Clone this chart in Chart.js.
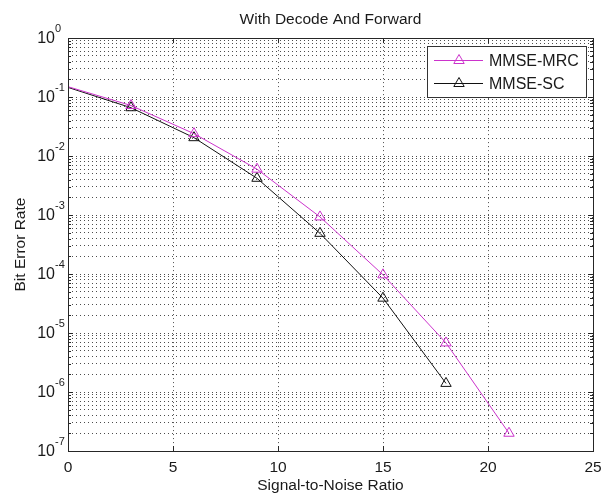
<!DOCTYPE html>
<html lang="en">
<head>
  <meta charset="UTF-8">
  <title>With Decode And Forward</title>
  <script src="https://cdn.jsdelivr.net/npm/chart.js"></script>
  <style>
    body { margin: 0; background: #fff; }
    canvas { display: block; background: #fff; }
  </style>
</head>
<body>
  <canvas id="berChart" width="601" height="495"></canvas>
  <script>
    // values (BER against SNR, log y axis)
    const snrMRC = [0, 3, 6, 9, 12, 15, 18, 21];
    const berMRC = [0.15, 0.072, 0.024, 0.006, 0.00093, 0.000097, 0.0000068, 0.0000002];
    const snrSC = [0, 3, 6, 9, 12, 15, 18];
    const berSC = [0.146, 0.066, 0.0205, 0.0042, 0.00049, 0.000039, 0.0000014];

    const xTicks = [0, 5, 10, 15, 20, 25];
    const yExponents = [-7, -6, -5, -4, -3, -2, -1, 0];

    const FONT = "'Liberation Sans', Arial, sans-serif";
    const TEXT = '#1a1a1a';

    // every 1..9 x 10^n line, like matlab's minor grid
    const yGrid = [];
    yExponents.forEach(e => {
      if (e === 0) { yGrid.push(1); return; }
      for (let m = 1; m <= 9; m++) yGrid.push(m * Math.pow(10, e));
    });

    function isDecade(v) {
      const l = Math.log10(v);
      return Math.abs(l - Math.round(l)) < 1e-9;
    }

    function toPoints(xs, ys) {
      return xs.map((x, i) => ({ x: x, y: ys[i] }));
    }

    // box, inward ticks, 10^n labels and the legend drawn matlab style
    const matlabAxes = {
      id: 'matlabAxes',
      afterDraw(chart) {
        const ctx = chart.ctx;
        const area = chart.chartArea;
        const xs = chart.scales.x, ys = chart.scales.y;
        ctx.save();
        ctx.strokeStyle = '#262626';
        ctx.lineWidth = 1;
        ctx.beginPath();
        xTicks.forEach(v => {
          const px = Math.round(xs.getPixelForValue(v)) + 0.5;
          ctx.moveTo(px, area.bottom); ctx.lineTo(px, area.bottom - 5);
          ctx.moveTo(px, area.top); ctx.lineTo(px, area.top + 5);
        });
        ys.ticks.forEach(t => {
          const py = Math.round(ys.getPixelForValue(t.value)) + 0.5;
          const len = isDecade(t.value) ? 5 : 3;
          ctx.moveTo(area.left, py); ctx.lineTo(area.left + len, py);
          ctx.moveTo(area.right, py); ctx.lineTo(area.right - len, py);
        });
        ctx.stroke();
        ctx.strokeRect(Math.round(area.left) + 0.5, Math.round(area.top) + 0.5,
          Math.round(area.right - area.left), Math.round(area.bottom - area.top));

        // y tick labels with raised exponent
        ctx.fillStyle = TEXT;
        ctx.textBaseline = 'alphabetic';
        yExponents.forEach(e => {
          const py = ys.getPixelForValue(Math.pow(10, e));
          ctx.font = '16px ' + FONT;
          ctx.textAlign = 'right';
          ctx.fillText('10', area.left - 13, py + 5);
          ctx.font = '11px ' + FONT;
          ctx.textAlign = 'left';
          ctx.fillText(String(e), area.left - 13, py - 6);
        });

        // legend box in the top right corner
        const lx = Math.round(area.right) - 166, ly = Math.round(area.top) + 8;
        const lw = 159, lh = 51;
        ctx.fillStyle = '#fff';
        ctx.fillRect(lx, ly, lw, lh);
        ctx.strokeStyle = '#333';
        ctx.strokeRect(lx + 0.5, ly + 0.5, lw, lh);
        chart.data.datasets.forEach((ds, i) => {
          const cy = ly + 14.5 + i * 23;
          ctx.strokeStyle = ds.borderColor;
          ctx.beginPath();
          ctx.moveTo(lx + 7, cy); ctx.lineTo(lx + 56, cy);
          ctx.stroke();
          ctx.fillStyle = 'rgba(0,0,0,0)';
          Chart.helpers.drawPoint(ctx, { pointStyle: 'triangle', radius: 6, rotation: 0, borderWidth: 1 }, lx + 32, cy);
          ctx.fillStyle = TEXT;
          ctx.font = '16px ' + FONT;
          ctx.textAlign = 'left';
          ctx.textBaseline = 'middle';
          ctx.fillText(ds.label, lx + 62, cy + 1);
        });
        ctx.restore();
      }
    };

    const gridStyle = {
      color: '#4d4d4d',
      lineWidth: 1,
      drawTicks: false
    };

    new Chart(document.getElementById('berChart'), {
      type: 'line',
      data: {
        datasets: [{
          label: 'MMSE-MRC',
          data: toPoints(snrMRC, berMRC),
          borderColor: '#cc33cc',
          backgroundColor: 'rgba(0,0,0,0)',
          borderWidth: 1,
          pointStyle: 'triangle',
          pointRadius: snrMRC.map(x => x === 0 ? 0 : 6),
          pointBorderWidth: 1,
          pointBorderColor: '#cc33cc',
          pointBackgroundColor: 'rgba(0,0,0,0)',
          tension: 0
        }, {
          label: 'MMSE-SC',
          data: toPoints(snrSC, berSC),
          borderColor: '#111',
          backgroundColor: 'rgba(0,0,0,0)',
          borderWidth: 1,
          pointStyle: 'triangle',
          pointRadius: snrSC.map(x => x === 0 ? 0 : 6),
          pointBorderWidth: 1,
          pointBorderColor: '#111',
          pointBackgroundColor: 'rgba(0,0,0,0)',
          tension: 0
        }]
      },
      options: {
        responsive: false,
        animation: false,
        layout: { padding: { left: 0, right: 8, top: 0, bottom: 0 } },
        plugins: {
          legend: { display: false },
          tooltip: { enabled: false },
          title: {
            display: true,
            text: 'With Decode And Forward',
            fullSize: false,
            color: TEXT,
            font: { family: FONT, size: 15.5, weight: 'normal' },
            padding: { top: 10, bottom: 9.5 }
          }
        },
        scales: {
          x: {
            type: 'linear',
            min: 0,
            max: 25,
            afterBuildTicks: scale => { scale.ticks = xTicks.map(v => ({ value: v })); },
            afterFit: scale => {
              scale.height = 44;
              scale.paddingLeft = 0;
              scale.paddingRight = 0;
            },
            grid: Object.assign({ borderDash: [1, 3] }, gridStyle),
            border: { display: false, dash: [1, 3] },
            ticks: { color: TEXT, padding: 7, font: { family: FONT, size: 15.5 } },
            title: {
              display: true,
              text: 'Signal-to-Noise Ratio',
              color: TEXT,
              font: { family: FONT, size: 15.5 },
              padding: { top: 0, bottom: 0 }
            }
          },
          y: {
            type: 'logarithmic',
            min: 1e-7,
            max: 1,
            afterBuildTicks: scale => { scale.ticks = yGrid.map(v => ({ value: v })); },
            afterFit: scale => { scale.width = 68; },
            grid: gridStyle,
            border: { display: false, dash: [1, 3] },
            ticks: { display: false },
            title: {
              display: true,
              text: 'Bit Error Rate',
              color: TEXT,
              font: { family: FONT, size: 15.5 },
              padding: { top: 11, bottom: 0 }
            }
          }
        }
      },
      plugins: [matlabAxes]
    });
  </script>
</body>
</html>
